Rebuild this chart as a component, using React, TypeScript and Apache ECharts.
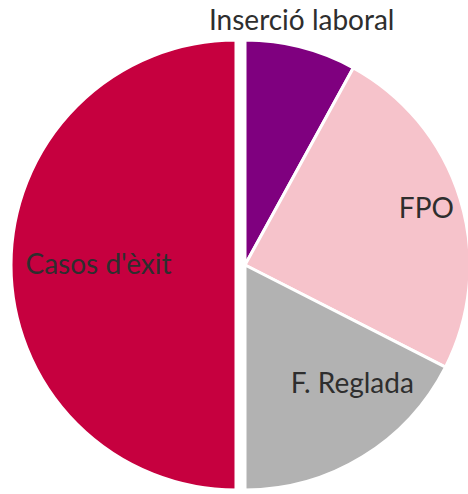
import React, { useEffect, useRef } from "react";
import * as echarts from "echarts";

const categories = ["Inserció laboral", "FPO", "F. Reglada", "Casos d'èxit"];
const values = [8, 24.5, 17.5, 50];
const colors = ["#7F007F", "#F6C3CB", "#B2B2B2", "#C6003F"];

// label nudges (dx, dy) from the default inside position
const labelNudges: [number, number][] = [
  [28, -134],
  [71, -24],
  [47, 19],
  [-22, -2],
];

export default function App() {
  const ref = useRef<HTMLDivElement>(null);
  useEffect(() => {
    document.body.style.margin = "0";
    const chart = echarts.init(ref.current!, null, { renderer: "svg" });
    chart.setOption({
      animation: false,
      backgroundColor: "#ffffff",
      series: [
        {
          type: "pie",
          center: [245, 265],
          radius: [0, 225],
          startAngle: 90,
          clockwise: true,
          selectedMode: "single",
          selectedOffset: 9,
          avoidLabelOverlap: false,
          itemStyle: { borderColor: "#ffffff", borderWidth: 3 },
          label: {
            show: true,
            position: "inside",
            formatter: "{b}",
            color: "#2e2e2e",
            fontFamily: "Lato",
            fontSize: 28,
          },
          labelLine: { show: false },
          emphasis: { disabled: true },
          labelLayout: (p: any) => {
            const n = labelNudges[p.dataIndex] || [0, 0];
            return { dx: n[0], dy: n[1] };
          },
          data: categories.map((c, i) => ({
            name: c,
            value: values[i],
            selected: i === 3,
            itemStyle: { color: colors[i] },
          })),
        },
      ],
    });
    return () => chart.dispose();
  }, []);
  return <div ref={ref} style={{ width: 468, height: 494 }} />;
}
